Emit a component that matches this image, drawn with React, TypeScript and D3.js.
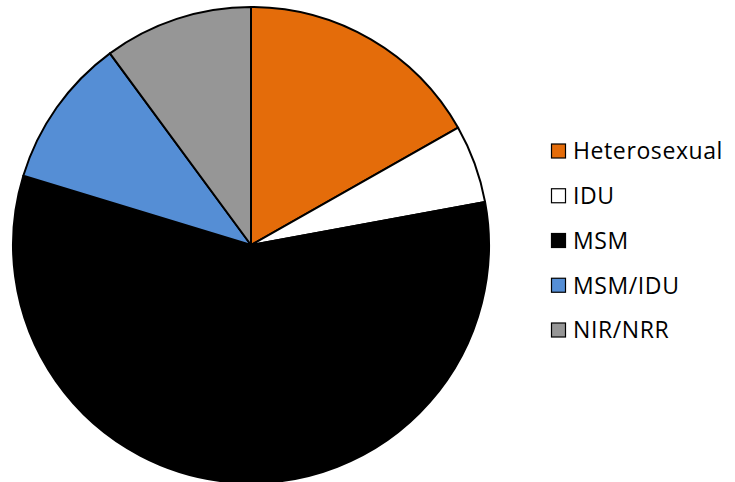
import React from "react";
import * as d3 from "d3";

const categories = ["Heterosexual", "IDU", "MSM", "MSM/IDU", "NIR/NRR"];
const values = [16.8, 5.3, 57.6, 10.2, 10.1];
const colors = ["#E46C0A", "#FFFFFF", "#000000", "#558ED5", "#969696"];

export default function App() {
  const W = 735, H = 482;
  const cx = 251, cy = 245, r = 238;
  const data = categories.map((c, i) => ({ c, v: values[i], col: colors[i] }));
  const pie = d3.pie<any>().value((d) => d.v).sort(null);
  const arc = d3.arc<any>().innerRadius(0).outerRadius(r);
  const arcs = pie(data);
  const legendY = d3.scalePoint<string>().domain(categories).range([151, 330]);
  return (
    <svg width={W} height={H} style={{ position: "absolute", left: 0, top: 0 }}>
      <rect width={W} height={H} fill="#fff" />
      <g transform={`translate(${cx},${cy})`}>
        {arcs.map((a, i) => (
          <path key={i} d={arc(a) as string} fill={a.data.col} stroke="#000" strokeWidth={2} strokeLinejoin="round" />
        ))}
      </g>
      {categories.map((c, i) => (
        <g key={c} transform={`translate(551,${legendY(c)})`}>
          <rect x={0.5} y={-7} width={14} height={14} fill={colors[i]} stroke="#000" strokeWidth={1.2} />
          <text x={22} y={0} dy="0.36em" fontFamily="'Open Sans', 'Noto Sans', sans-serif" fontSize={23} letterSpacing={0.6} fill="#000">{c}</text>
        </g>
      ))}
    </svg>
  );
}
